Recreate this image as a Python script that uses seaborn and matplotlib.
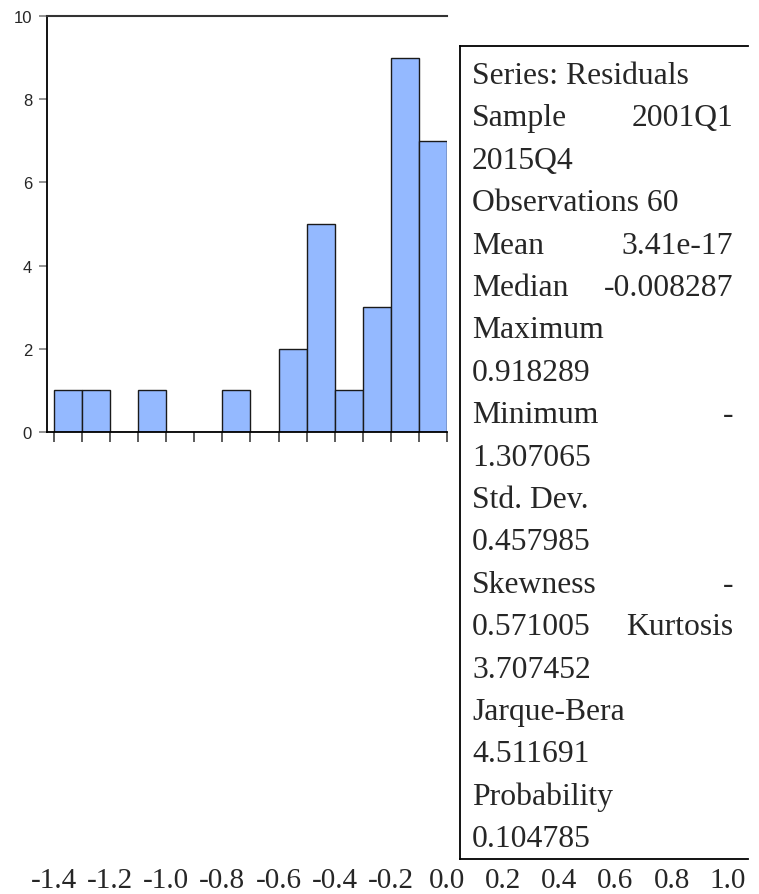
import matplotlib
matplotlib.use("Agg")
import matplotlib.pyplot as plt
import matplotlib.transforms as mtransforms
import seaborn as sns
import pandas as pd

# ---- data ----
bin_edges = [-1.4, -1.3, -1.2, -1.1, -1.0, -0.9, -0.8, -0.7,
             -0.6, -0.5, -0.4, -0.3, -0.2, -0.1, 0.0]
bin_centers = [-1.35, -1.25, -1.15, -1.05, -0.95, -0.85, -0.75,
               -0.65, -0.55, -0.45, -0.35, -0.25, -0.15, -0.05]
counts = [1, 1, 0, 1, 0, 0, 1, 0, 2, 5, 1, 3, 9, 7]

y_ticks = [0, 2, 4, 6, 8, 10]
x_label_values = [-1.4, -1.2, -1.0, -0.8, -0.6, -0.4, -0.2, 0.0,
                  0.2, 0.4, 0.6, 0.8, 1.0]
x_label_texts = ["-1.4", "-1.2", "-1.0", "-0.8", "-0.6", "-0.4", "-0.2",
                 "0.0", "0.2", "0.4", "0.6", "0.8", "1.0"]

stats_lines = [
    ("Series: Residuals", ""),
    ("Sample", "2001Q1"),
    ("2015Q4", ""),
    ("Observations 60", ""),
    ("Mean", "3.41e-17"),
    ("Median", "-0.008287"),
    ("Maximum", ""),
    ("0.918289", ""),
    ("Minimum", "-"),
    ("1.307065", ""),
    ("Std. Dev.", ""),
    ("0.457985", ""),
    ("Skewness", "-"),
    ("0.571005", "Kurtosis"),
    ("3.707452", ""),
    ("Jarque-Bera", ""),
    ("4.511691", ""),
    ("Probability", ""),
    ("0.104785", ""),
]

df = pd.DataFrame({"x": bin_centers, "w": counts})

sns.set_style("white")
W, H = 759, 895
fig = plt.figure(figsize=(W / 100, H / 100), dpi=100)

# ---- histogram axes ----
ax = fig.add_axes([47 / W, 1 - 433 / H, 400 / W, 416 / H])
sns.histplot(data=df, x="x", weights="w", bins=bin_edges, ax=ax,
             color="#94B9FF", edgecolor="#1a1a1a", linewidth=1.0, alpha=1.0)
ax.set_xlim(-1.4245, -0.026)
ax.set_ylim(0, 10)
ax.set_xlabel("")
ax.set_ylabel("")
ax.set_yticks(y_ticks)
ax.set_yticklabels([str(v) for v in y_ticks], fontfamily="Liberation Sans",
                   fontsize=12)
ax.set_xticks(bin_edges)
ax.set_xticklabels([])
ax.tick_params(axis="y", which="both", left=True, length=5.8, width=1.2,
               color="#808080", pad=5)
ax.tick_params(axis="x", which="both", bottom=True, length=7.2, width=1.2,
               color="#404040", direction="out")
for side in ["left", "bottom"]:
    ax.spines[side].set_color("#000000")
    ax.spines[side].set_linewidth(1.3)
ax.spines["top"].set_color("#333333")
ax.spines["top"].set_linewidth(1.5)
ax.spines["right"].set_visible(False)

# x labels far below, positioned at their data x
trans = mtransforms.blended_transform_factory(ax.transData, fig.transFigure)
for v, t in zip(x_label_values, x_label_texts):
    ax.text(v, (H - 888) / H, t, transform=trans, ha="center", va="baseline",
            fontfamily="Liberation Serif", fontsize=21, clip_on=False)

# ---- statistics box ----
box = fig.add_axes([460 / W, 1 - 860 / H, 288 / W, 813 / H])
box.set_xlim(460, 748)
box.set_ylim(860, 47)
box.set_xticks([])
box.set_yticks([])
box.patch.set_alpha(0)
box.spines["right"].set_visible(False)
for side in ["left", "top", "bottom"]:
    box.spines[side].set_color("#000000")
    box.spines[side].set_linewidth(1.3)

for i, (left, right) in enumerate(stats_lines):
    yb = 84 + 42.4 * i
    box.text(472, yb, left, ha="left", va="baseline",
             fontfamily="Liberation Serif", fontsize=22.8)
    if right:
        box.text(733, yb, right, ha="right", va="baseline",
                 fontfamily="Liberation Serif", fontsize=22.8)

fig.savefig("out.png", dpi=100)
